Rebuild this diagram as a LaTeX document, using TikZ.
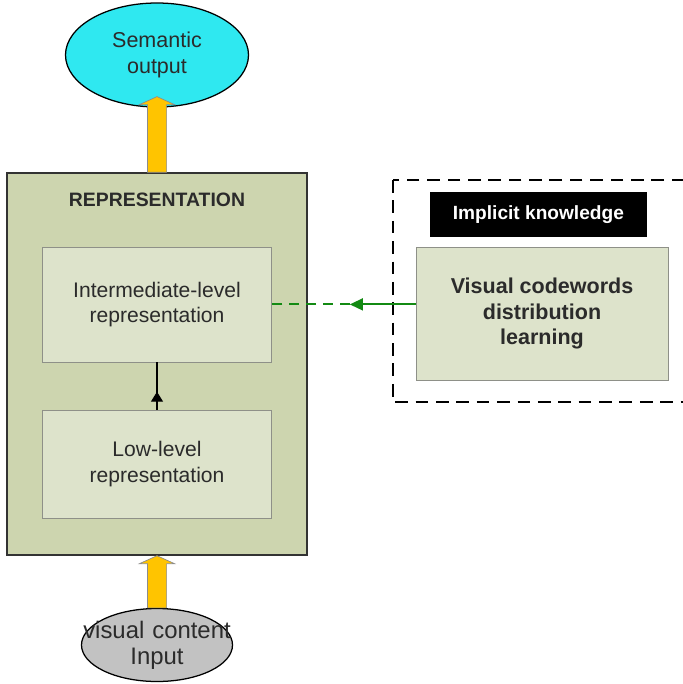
\documentclass[tikz,border=0pt]{standalone}
\usepackage{fontspec}
\setmainfont{Liberation Sans}
\usetikzlibrary{arrows.meta,positioning,shapes.geometric,calc}
\definecolor{repfill}{HTML}{CDD5AF}
\definecolor{innerfill}{HTML}{DDE3CB}
\definecolor{innerline}{HTML}{8E9088}
\definecolor{semcyan}{HTML}{2FE8F0}
\definecolor{arrowgold}{HTML}{FFC400}
\definecolor{inputgray}{HTML}{C2C2C2}
\definecolor{linkgreen}{HTML}{138A13}
\definecolor{inkdark}{HTML}{2B2B2B}

\begin{document}
\begin{tikzpicture}[>=Stealth,
  outer/.style={draw=black!80, line width=1pt, fill=repfill, minimum width=7.5cm, minimum height=9.55cm},
  level/.style={draw=innerline, fill=innerfill, minimum width=5.725cm, align=center, text=inkdark, font=\fontsize{15}{18}\selectfont},
  oval/.style={ellipse, draw=black, line width=0.9pt, align=center, text=inkdark, inner sep=0pt},
  fatarrow/.style={fill=arrowgold, draw=black!45, line width=0.5pt},
  boxtitle/.style={font=\fontsize{13.8}{16}\selectfont\bfseries, text=inkdark}]
\useasboundingbox (0,0) rectangle (17.05,-17.1);
\node[outer] (rep) at (3.925,-9.1) {};
\node[boxtitle] (title) at (3.925,-5.0) {REPRESENTATION};
\node[level, minimum height=2.875cm] (inter) at (3.925,-7.61) {Intermediate-level\\ representation};
\node[level, minimum height=2.7cm] (low) at (3.925,-11.6) {Low-level\\ representation};
\node[oval, fill=semcyan, minimum width=4.575cm, minimum height=2.6cm, font=\fontsize{15.3}{18.5}\selectfont] (sem) at (3.925,-1.375) {Semantic\\ output};
\node[oval, fill=inputgray, minimum width=3.775cm, minimum height=1.825cm, text width=2.4cm, font=\fontsize{17}{18.5}\selectfont] (inp) at (3.925,-16.125) {\makebox[\linewidth]{visual content}\\ Input};
\draw[black, line width=1.4pt, dash pattern=on 9pt off 5.5pt] (9.825,-4.5) rectangle (17.6,-10.05);
\node[fill=black, text=white, font=\fontsize{13.6}{15}\selectfont\bfseries, minimum width=5.425cm, minimum height=1.125cm] (impl) at (13.46,-5.36) {Implicit knowledge};
\node[level, minimum width=6.3cm, minimum height=3.325cm, font=\fontsize{15.3}{18}\selectfont\bfseries] (vcd) at (13.55,-7.84) {Visual codewords\\ distribution\\ learning};
\coordinate (semtip) at ($(sem.south)+(0,0.275)$);
\foreach \s/\t in {inp.north/rep.south, rep.north/semtip} {
  \filldraw[fatarrow] ($(\s)+(-0.24,0)$) -- ($(\t)+(-0.24,-0.2)$) -- ($(\t)+(-0.44,-0.2)$) -- (\t)
    -- ($(\t)+(0.44,-0.2)$) -- ($(\t)+(0.24,-0.2)$) -- ($(\s)+(0.24,0)$) -- cycle;
}
\draw[line width=1pt] (low.north) -- (inter.south);
\draw[line width=1pt, -{Triangle[length=0.25cm, width=0.3cm]}] (low.north) -- ++(0,0.45);
\coordinate (gtip) at ($(inter.east)+(1.95,0)$);
\draw[linkgreen, line width=1.4pt, -{Triangle[length=0.33cm, width=0.3cm]}] (vcd.west |- gtip) -- (gtip);
\draw[linkgreen, line width=1.4pt, dash pattern=on 7pt off 5pt] (gtip) -- (inter.east);
\end{tikzpicture}
\end{document}
